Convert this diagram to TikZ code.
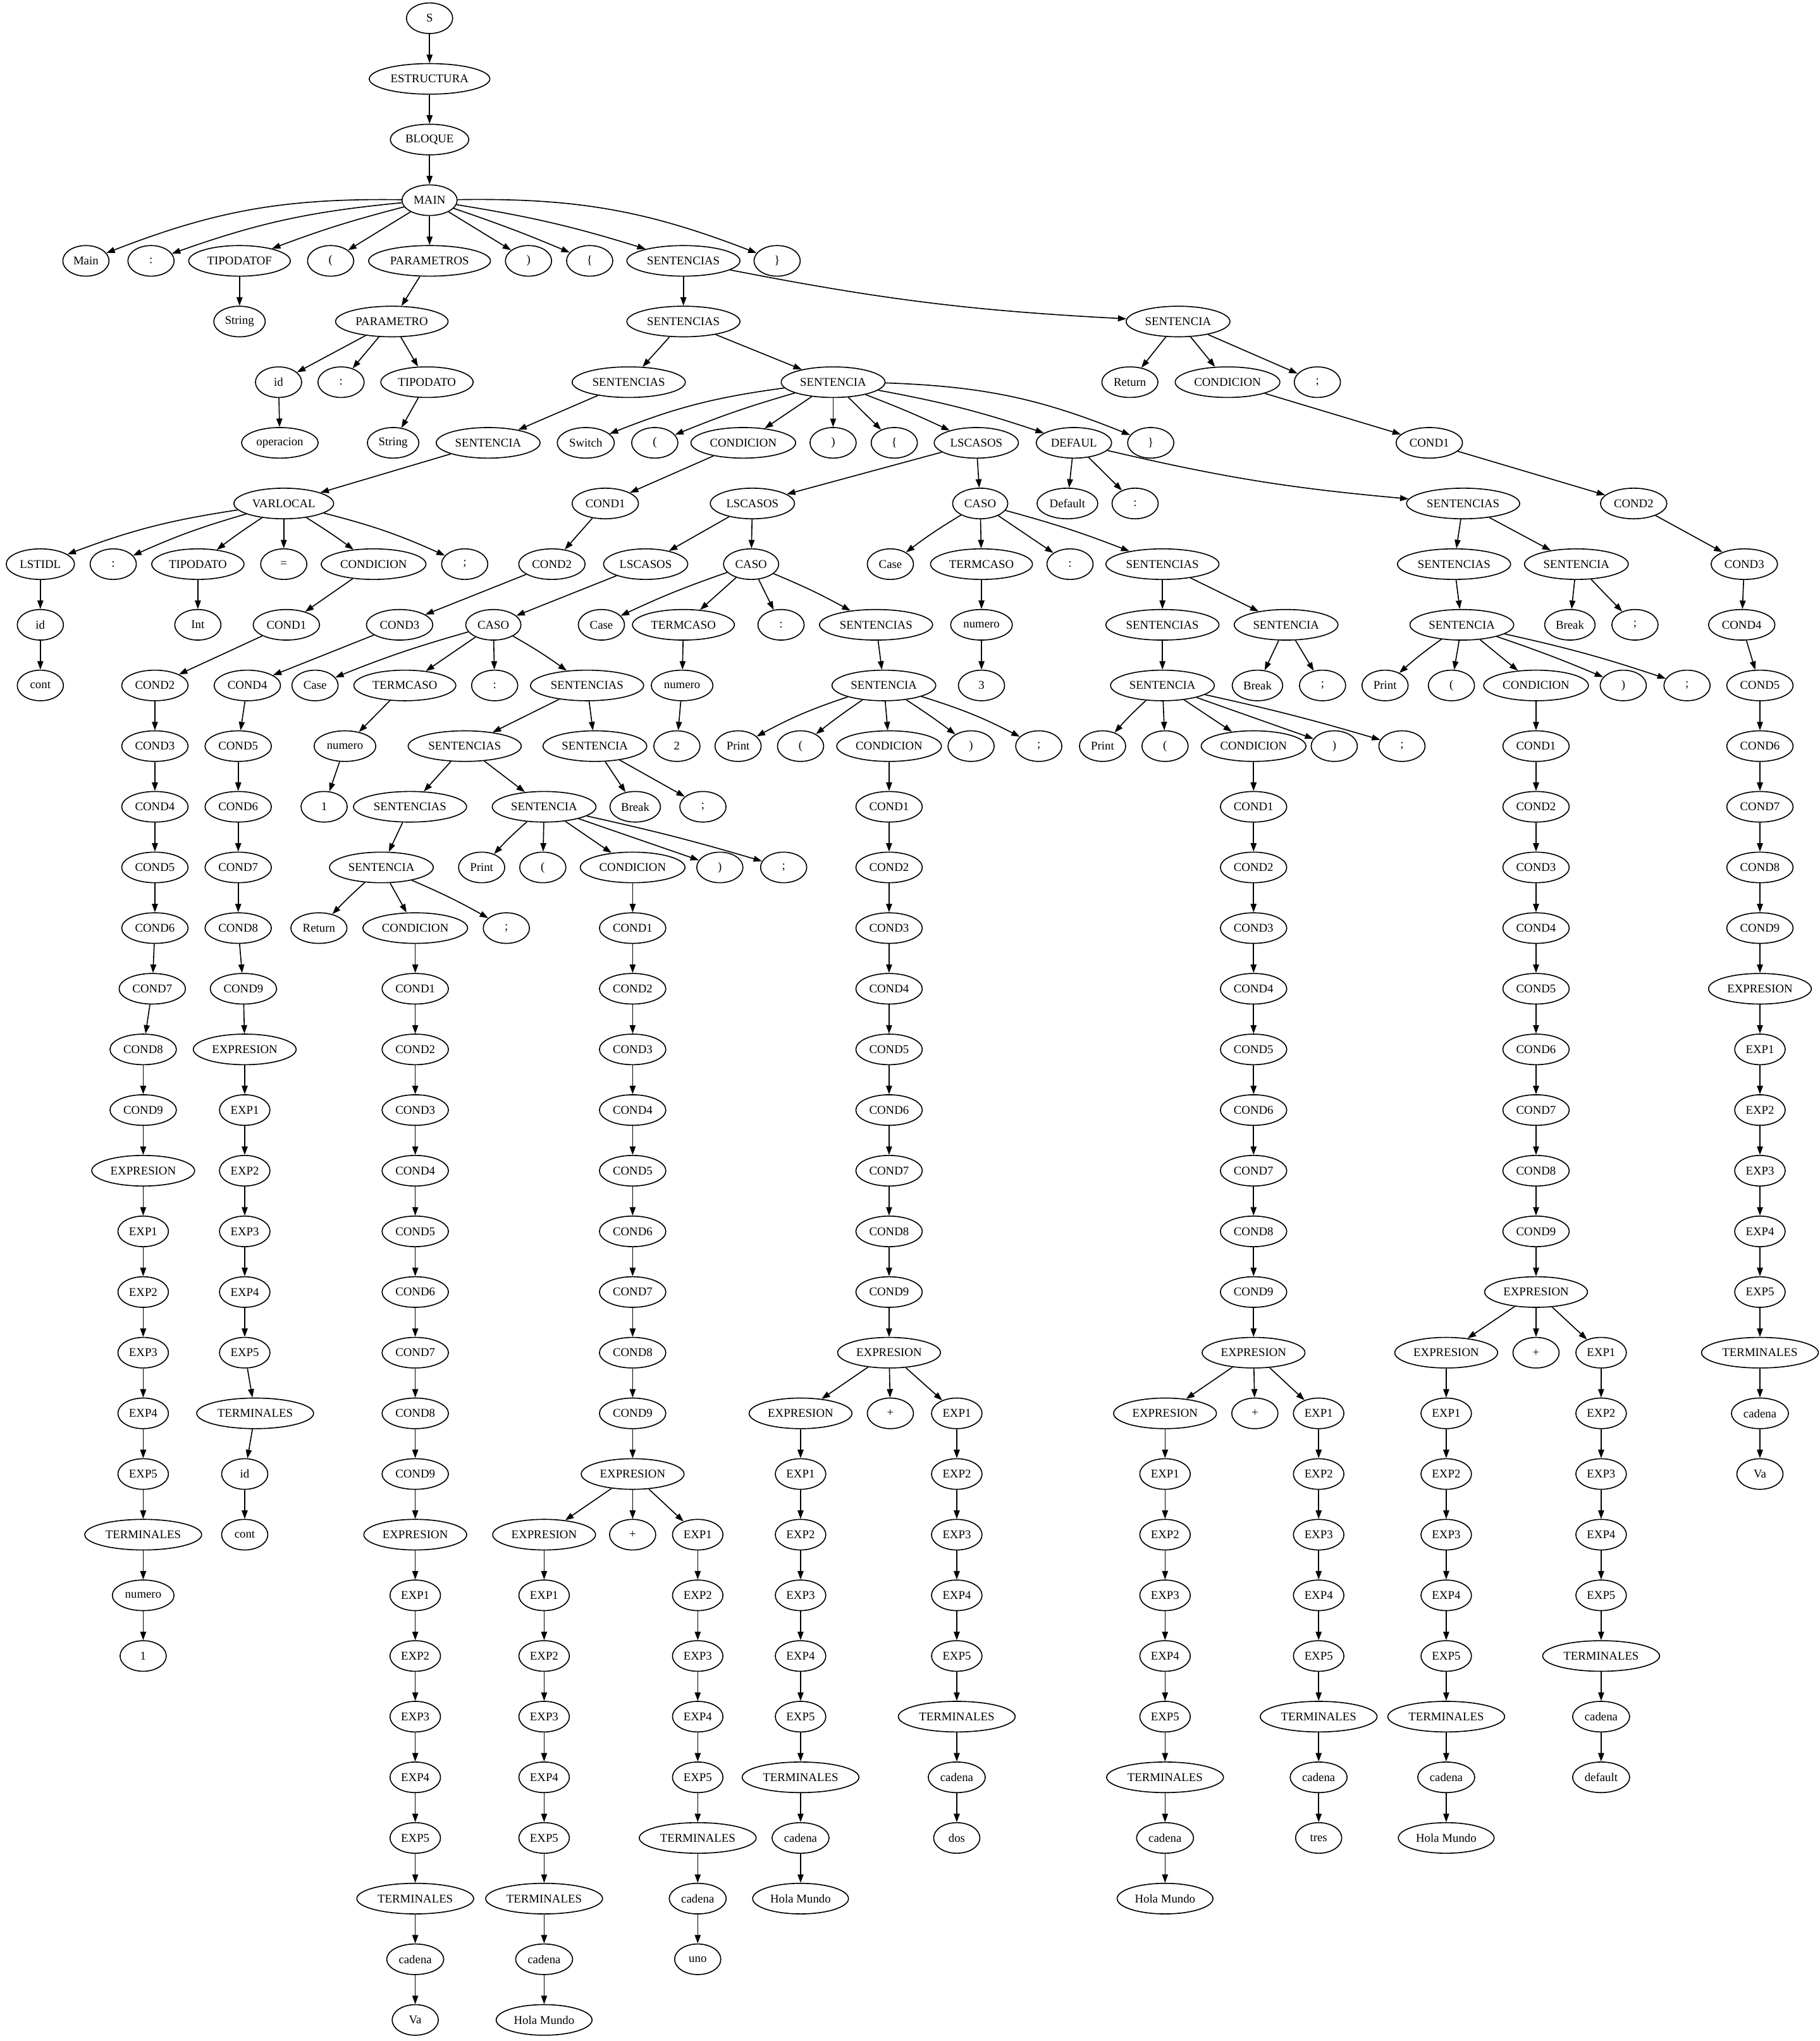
\documentclass[tikz,border=0pt]{standalone}
\usepackage{fontspec}
\setmainfont{Liberation Serif}
\usepackage{tikz}
\usetikzlibrary{arrows.meta, shapes.geometric}

% a straight run of a derivation: #1 prefix, #2 parent node, #3 first level, #4 x/label pairs
\newcommand{\derivChain}[4]{%
  \foreach \xx/\lbl [count=\i, remember=\i as \j (initially 0)] in {#4}{%
    \node[nd] (#1\i) at (\xx,#3+\i-1) {\lbl};
    \ifnum\i=1 \draw[arr] (#2) -- (#1\i);\else \draw[arr] (#1\j) -- (#1\i);\fi
  }}

\begin{document}
\begin{tikzpicture}[x=0.02cm, y=-0.932cm,
  nd/.style={draw, ellipse, line width=0.45pt, inner xsep=1.6pt, inner ysep=1pt,
             minimum width=0.71cm, minimum height=0.47cm,
             font=\fontsize{5.2}{6}\selectfont},
  arr/.style={-{Triangle[length=3.7pt, width=2.6pt]}, line width=0.45pt}
]
\useasboundingbox (0,-0.3004) rectangle (1398,33.3476);

% root
\node[nd] (s) at (330,0) {S};
\node[nd] (estr) at (330,1) {ESTRUCTURA};
\node[nd] (bloque) at (330,2) {BLOQUE};
\node[nd] (main) at (330,3) {MAIN};
\draw[arr] (s) -- (estr);
\draw[arr] (estr) -- (bloque);
\draw[arr] (bloque) -- (main);

% MAIN
\node[nd] (kMain) at (66,4) {Main};
\node[nd] (kColA) at (116,4) {:};
\node[nd] (tipof) at (184,4) {TIPODATOF};
\node[nd] (kParA) at (254,4) {(};
\node[nd] (params) at (330,4) {PARAMETROS};
\node[nd] (kParB) at (406,4) {)};
\node[nd] (kBrA) at (453,4) {\{};
\node[nd] (sts) at (525,4) {SENTENCIAS};
\node[nd] (kBrB) at (597,4) {\}};
\foreach \c/\b in {kMain/-11,kColA/-7,tipof/-3,kParA/0,params/0,kParB/0,kBrA/2,sts/4,kBrB/11}
  \draw[arr] (main) to[bend left=\b] (\c);

% parameters
\node[nd] (strA) at (184,5) {String};
\node[nd] (param) at (301,5) {PARAMETRO};
\node[nd] (pId) at (214,6) {id};
\node[nd] (pCol) at (262,6) {:};
\node[nd] (pTipo) at (328,6) {TIPODATO};
\node[nd] (pOp) at (215,7) {operacion};
\node[nd] (strB) at (302,7) {String};
\draw[arr] (tipof) -- (strA);
\draw[arr] (params) -- (param);
\foreach \c in {pId,pCol,pTipo} \draw[arr] (param) -- (\c);
\draw[arr] (pId) -- (pOp);
\draw[arr] (pTipo) -- (strB);

% Return Va
\node[nd] (sts2) at (525,5) {SENTENCIAS};
\node[nd] (stRet) at (905,5) {SENTENCIA};
\node[nd] (kRet) at (868,6) {Return};
\node[nd] (condR) at (943,6) {CONDICION};
\node[nd] (kSemR) at (1012,6) {;};
\draw[arr] (sts) -- (sts2);
\draw[arr] (sts) to[bend left=-4] (stRet);
\foreach \c in {kRet,condR,kSemR} \draw[arr] (stRet) -- (\c);
\derivChain{rc}{condR}{7}{1098/COND1,1255/COND2,1340/COND3,1338/COND4,1352/COND5,1352/COND6,1352/COND7,1352/COND8,1352/COND9,1352/EXPRESION,1352/EXP1,1352/EXP2,1352/EXP3,1352/EXP4,1352/EXP5,1352/TERMINALES,1352/cadena,1352/Va}

% local variable
\node[nd] (sts3) at (483,6) {SENTENCIAS};
\node[nd] (stSw) at (640,6) {SENTENCIA};
\node[nd] (stVar) at (375,7) {SENTENCIA};
\node[nd] (varloc) at (218,8) {VARLOCAL};
\node[nd] (lstidl) at (31,9) {LSTIDL};
\node[nd] (vCol) at (87,9) {:};
\node[nd] (vTipo) at (152,9) {TIPODATO};
\node[nd] (vEq) at (218,9) {=};
\node[nd] (condV) at (287,9) {CONDICION};
\node[nd] (vSem) at (357,9) {;};
\node[nd] (vId) at (31,10) {id};
\node[nd] (vInt) at (152,10) {Int};
\node[nd] (vCont) at (31,11) {cont};
\draw[arr] (sts2) -- (sts3);
\draw[arr] (sts2) -- (stSw);
\draw[arr] (sts3) -- (stVar);
\draw[arr] (stVar) -- (varloc);
\foreach \c/\b in {lstidl/-6,vCol/-4,vTipo/-2,vEq/0,condV/2,vSem/5}
  \draw[arr] (varloc) to[bend left=\b] (\c);
\draw[arr] (lstidl) -- (vId);
\draw[arr] (vId) -- (vCont);
\draw[arr] (vTipo) -- (vInt);
\derivChain{cv}{condV}{10}{220/COND1,119/COND2,119/COND3,119/COND4,119/COND5,119/COND6,117/COND7,110/COND8,110/COND9,110/EXPRESION,110/EXP1,110/EXP2,110/EXP3,110/EXP4,110/EXP5,110/TERMINALES,110/numero,110/1}

% Switch
\node[nd] (kSw) at (450,7) {Switch};
\node[nd] (swParA) at (503,7) {(};
\node[nd] (condSw) at (571,7) {CONDICION};
\node[nd] (swParB) at (640,7) {)};
\node[nd] (swBrA) at (687,7) {\{};
\node[nd] (cases) at (750,7) {LSCASOS};
\node[nd] (defaul) at (825,7) {DEFAUL};
\node[nd] (swBrB) at (884,7) {\}};
\foreach \c/\b in {kSw/-7,swParA/-3,condSw/0,swParB/0,swBrA/0,cases/2,defaul/4,swBrB/10}
  \draw[arr] (stSw) to[bend left=\b] (\c);
\derivChain{cs}{condSw}{8}{465/COND1,424/COND2,307/COND3,190/COND4,183/COND5,183/COND6,183/COND7,183/COND8,187/COND9,188/EXPRESION,188/EXP1,188/EXP2,188/EXP3,188/EXP4,188/EXP5,196/TERMINALES,188/id,188/cont}

% list of cases
\node[nd] (cases2) at (578,8) {LSCASOS};
\node[nd] (caso3) at (753,8) {CASO};
\node[nd] (cases1) at (496,9) {LSCASOS};
\node[nd] (caso2) at (577,9) {CASO};
\node[nd] (caso1) at (379,10) {CASO};
\draw[arr] (cases) -- (cases2);
\draw[arr] (cases) -- (caso3);
\draw[arr] (cases2) -- (cases1);
\draw[arr] (cases2) -- (caso2);
\draw[arr] (cases1) -- (caso1);

% Case 1
\node[nd] (c1Case) at (242,11) {Case};
\node[nd] (c1Term) at (311,11) {TERMCASO};
\node[nd] (c1Col) at (380,11) {:};
\node[nd] (c1Sts) at (451,11) {SENTENCIAS};
\node[nd] (c1Num) at (265,12) {numero};
\node[nd] (c1Sts2) at (357,12) {SENTENCIAS};
\node[nd] (c1Brk) at (457,12) {SENTENCIA};
\node[nd] (c1One) at (249,13) {1};
\node[nd] (c1Sts3) at (315,13) {SENTENCIAS};
\node[nd] (c1Prt) at (418,13) {SENTENCIA};
\node[nd] (c1Break) at (488,13) {Break};
\node[nd] (c1BrkSem) at (540,13) {;};
\node[nd] (c1Ret) at (293,14) {SENTENCIA};
\node[nd] (c1Print) at (370,14) {Print};
\node[nd] (c1ParA) at (417,14) {(};
\node[nd] (c1Cond) at (486,14) {CONDICION};
\node[nd] (c1ParB) at (553,14) {)};
\node[nd] (c1Sem) at (602,14) {;};
\node[nd] (kRet2) at (245,15) {Return};
\node[nd] (c1RCond) at (319,15) {CONDICION};
\node[nd] (c1RSem) at (389,15) {;};
\foreach \c/\b in {c1Case/-3,c1Term/0,c1Col/0,c1Sts/3}
  \draw[arr] (caso1) to[bend left=\b] (\c);
\draw[arr] (c1Term) -- (c1Num);
\draw[arr] (c1Num) -- (c1One);
\draw[arr] (c1Sts) -- (c1Sts2);
\draw[arr] (c1Sts) -- (c1Brk);
\draw[arr] (c1Brk) -- (c1Break);
\draw[arr] (c1Brk) -- (c1BrkSem);
\draw[arr] (c1Sts2) -- (c1Sts3);
\draw[arr] (c1Sts2) -- (c1Prt);
\draw[arr] (c1Sts3) -- (c1Ret);
\foreach \c/\b in {kRet2/-2,c1RCond/0,c1RSem/3}
  \draw[arr] (c1Ret) to[bend left=\b] (\c);
\foreach \c/\b in {c1Print/-3,c1ParA/0,c1Cond/0,c1ParB/0,c1Sem/2}
  \draw[arr] (c1Prt) to[bend left=\b] (\c);
\derivChain{ra}{c1RCond}{16}{319/COND1,319/COND2,319/COND3,319/COND4,319/COND5,319/COND6,319/COND7,319/COND8,319/COND9,319/EXPRESION,319/EXP1,319/EXP2,319/EXP3,319/EXP4,319/EXP5,319/TERMINALES,319/cadena,319/Va}
\derivChain{pa}{c1Cond}{15}{486/COND1,486/COND2,486/COND3,486/COND4,486/COND5,486/COND6,486/COND7,486/COND8,486/COND9,486/EXPRESION}
\node[nd] (paPlus) at (486,25) {+};
\draw[arr] (pa10) -- (paPlus);
\derivChain{pl}{pa10}{25}{418/EXPRESION,418/EXP1,418/EXP2,418/EXP3,418/EXP4,418/EXP5,418/TERMINALES,418/cadena,418/Hola Mundo}
\derivChain{pr}{pa10}{25}{536/EXP1,536/EXP2,536/EXP3,536/EXP4,536/EXP5,536/TERMINALES,536/cadena,536/uno}

% Case 2
\node[nd] (c2Case) at (462,10) {Case};
\node[nd] (c2Term) at (525,10) {TERMCASO};
\node[nd] (c2Col) at (600,10) {:};
\node[nd] (c2Sts) at (673,10) {SENTENCIAS};
\node[nd] (c2Num) at (524,11) {numero};
\node[nd] (c2Prt) at (679,11) {SENTENCIA};
\node[nd] (c2Two) at (520,12) {2};
\node[nd] (c2Print) at (567,12) {Print};
\node[nd] (c2ParA) at (615,12) {(};
\node[nd] (c2Cond) at (683,12) {CONDICION};
\node[nd] (c2ParB) at (746,12) {)};
\node[nd] (c2Sem) at (798,12) {;};
\foreach \c/\b in {c2Case/-3,c2Term/0,c2Col/0,c2Sts/3}
  \draw[arr] (caso2) to[bend left=\b] (\c);
\draw[arr] (c2Term) -- (c2Num);
\draw[arr] (c2Num) -- (c2Two);
\draw[arr] (c2Sts) -- (c2Prt);
\foreach \c/\b in {c2Print/-5,c2ParA/-2,c2Cond/0,c2ParB/2,c2Sem/5}
  \draw[arr] (c2Prt) to[bend left=\b] (\c);
\derivChain{qa}{c2Cond}{13}{683/COND1,683/COND2,683/COND3,683/COND4,683/COND5,683/COND6,683/COND7,683/COND8,683/COND9,683/EXPRESION}
\node[nd] (qaPlus) at (684,23) {+};
\draw[arr] (qa10) -- (qaPlus);
\derivChain{ql}{qa10}{23}{615/EXPRESION,615/EXP1,615/EXP2,615/EXP3,615/EXP4,615/EXP5,615/TERMINALES,615/cadena,615/Hola Mundo}
\derivChain{qr}{qa10}{23}{735/EXP1,735/EXP2,735/EXP3,735/EXP4,735/EXP5,735/TERMINALES,735/cadena,735/dos}

% Case 3
\node[nd] (c3Case) at (684,9) {Case};
\node[nd] (c3Term) at (754,9) {TERMCASO};
\node[nd] (c3Col) at (822,9) {:};
\node[nd] (c3Sts) at (893,9) {SENTENCIAS};
\node[nd] (c3Num) at (754,10) {numero};
\node[nd] (c3Sts2) at (893,10) {SENTENCIAS};
\node[nd] (c3Brk) at (988,10) {SENTENCIA};
\node[nd] (c3Three) at (754,11) {3};
\node[nd] (c3Prt) at (893,11) {SENTENCIA};
\node[nd] (c3Break) at (966,11) {Break};
\node[nd] (c3BrkSem) at (1016,11) {;};
\node[nd] (c3Print) at (847,12) {Print};
\node[nd] (c3ParA) at (895,12) {(};
\node[nd] (c3Cond) at (963,12) {CONDICION};
\node[nd] (c3ParB) at (1025,12) {)};
\node[nd] (c3Sem) at (1077,12) {;};
\foreach \c/\b in {c3Case/-3,c3Term/0,c3Col/0,c3Sts/3}
  \draw[arr] (caso3) to[bend left=\b] (\c);
\draw[arr] (c3Term) -- (c3Num);
\draw[arr] (c3Num) -- (c3Three);
\draw[arr] (c3Sts) -- (c3Sts2);
\draw[arr] (c3Sts) -- (c3Brk);
\draw[arr] (c3Sts2) -- (c3Prt);
\draw[arr] (c3Brk) -- (c3Break);
\draw[arr] (c3Brk) -- (c3BrkSem);
\foreach \c/\b in {c3Print/-3,c3ParA/0,c3Cond/0,c3ParB/0,c3Sem/2}
  \draw[arr] (c3Prt) to[bend left=\b] (\c);
\derivChain{ta}{c3Cond}{13}{963/COND1,963/COND2,963/COND3,963/COND4,963/COND5,963/COND6,963/COND7,963/COND8,963/COND9,963/EXPRESION}
\node[nd] (taPlus) at (964,23) {+};
\draw[arr] (ta10) -- (taPlus);
\derivChain{tl}{ta10}{23}{895/EXPRESION,895/EXP1,895/EXP2,895/EXP3,895/EXP4,895/EXP5,895/TERMINALES,895/cadena,895/Hola Mundo}
\derivChain{tr}{ta10}{23}{1013/EXP1,1013/EXP2,1013/EXP3,1013/EXP4,1013/EXP5,1013/TERMINALES,1013/cadena,1013/tres}

% Default
\node[nd] (kDef) at (820,8) {Default};
\node[nd] (defCol) at (872,8) {:};
\node[nd] (stsDef) at (1124,8) {SENTENCIAS};
\node[nd] (dSts) at (1117,9) {SENTENCIAS};
\node[nd] (dBrk) at (1211,9) {SENTENCIA};
\node[nd] (dPrt) at (1123,10) {SENTENCIA};
\node[nd] (dBreak) at (1206,10) {Break};
\node[nd] (dBrkSem) at (1256,10) {;};
\node[nd] (dPrint) at (1064,11) {Print};
\node[nd] (dParA) at (1115,11) {(};
\node[nd] (dCond) at (1180,11) {CONDICION};
\node[nd] (dParB) at (1247,11) {)};
\node[nd] (dSem) at (1296,11) {;};
\draw[arr] (defaul) -- (kDef);
\draw[arr] (defaul) -- (defCol);
\draw[arr] (defaul) to[bend left=-4] (stsDef);
\draw[arr] (stsDef) -- (dSts);
\draw[arr] (stsDef) -- (dBrk);
\draw[arr] (dSts) -- (dPrt);
\draw[arr] (dBrk) -- (dBreak);
\draw[arr] (dBrk) -- (dBrkSem);
\foreach \c/\b in {dPrint/-3,dParA/0,dCond/0,dParB/2,dSem/3}
  \draw[arr] (dPrt) to[bend left=\b] (\c);
\derivChain{da}{dCond}{12}{1180/COND1,1180/COND2,1180/COND3,1180/COND4,1180/COND5,1180/COND6,1180/COND7,1180/COND8,1180/COND9,1180/EXPRESION}
\node[nd] (daPlus) at (1180,22) {+};
\draw[arr] (da10) -- (daPlus);
\derivChain{dl}{da10}{22}{1111/EXPRESION,1111/EXP1,1111/EXP2,1111/EXP3,1111/EXP4,1111/EXP5,1111/TERMINALES,1111/cadena,1111/Hola Mundo}
\derivChain{dr}{da10}{22}{1230/EXP1,1230/EXP2,1230/EXP3,1230/EXP4,1230/EXP5,1230/TERMINALES,1230/cadena,1230/default}
\end{tikzpicture}
\end{document}
